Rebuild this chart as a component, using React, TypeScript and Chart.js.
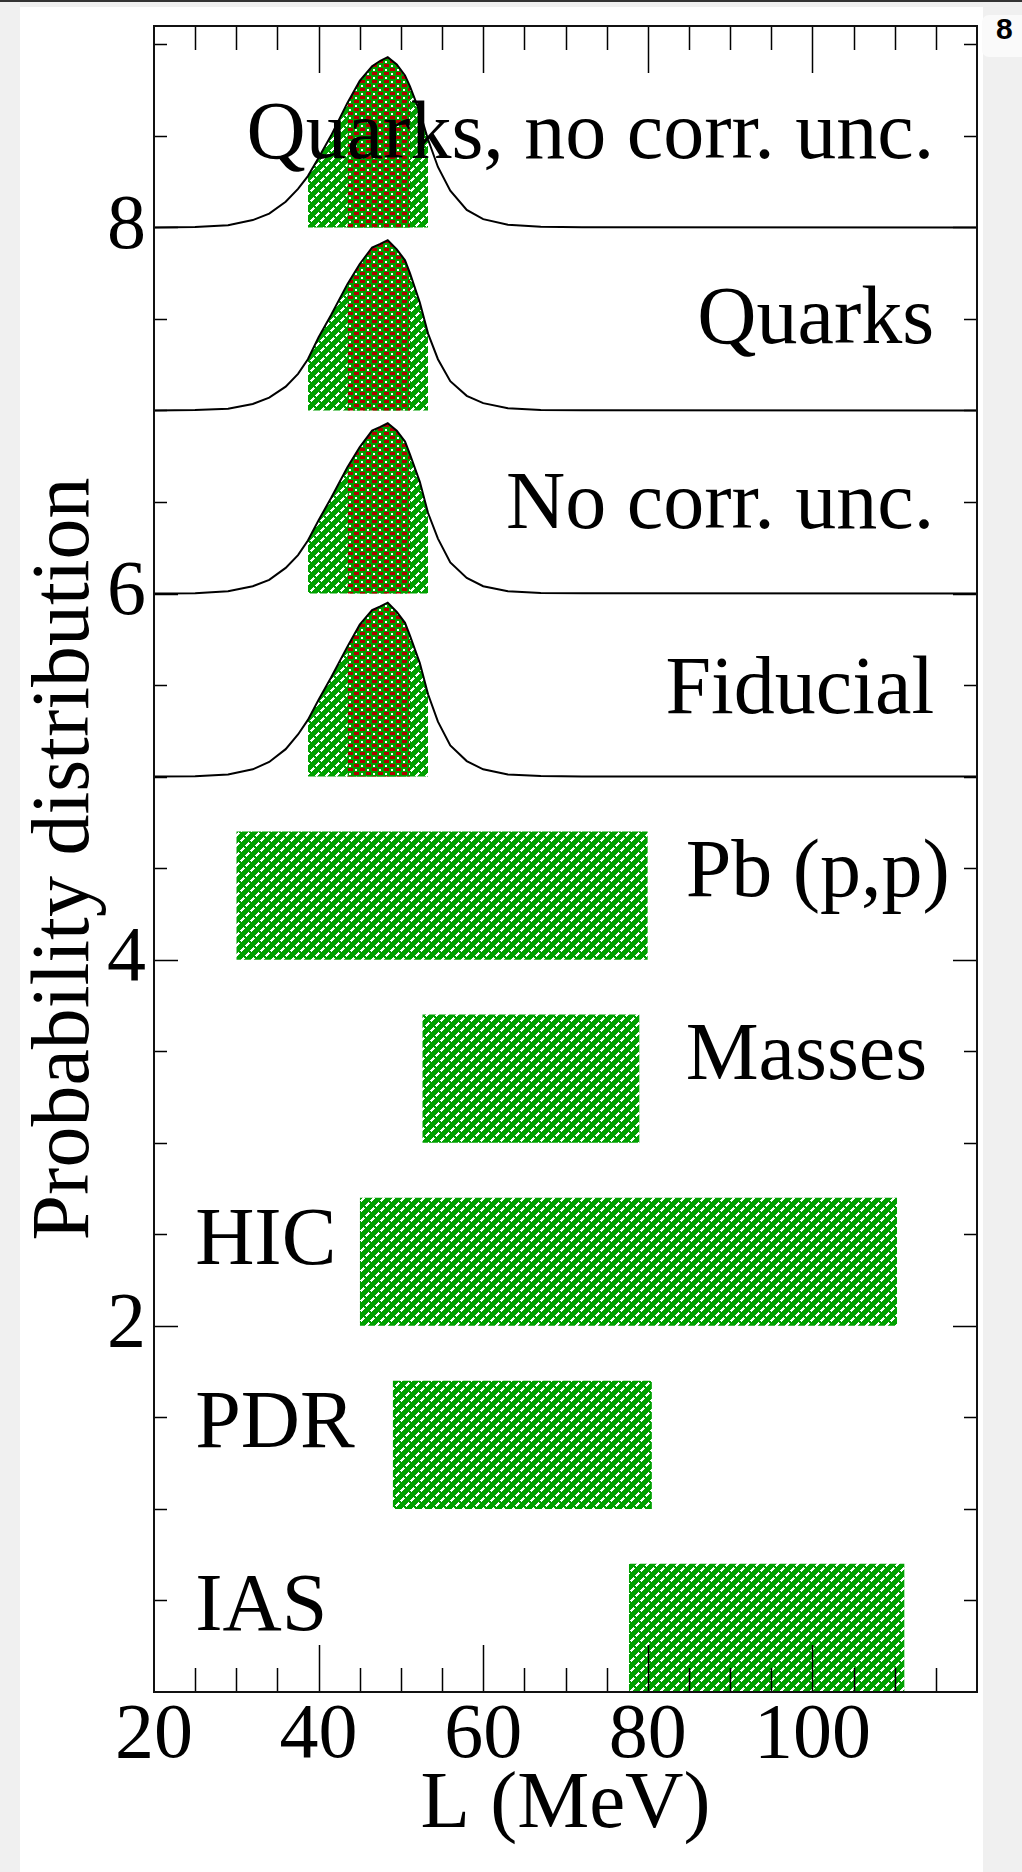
import React, { useEffect, useRef } from "react";
import { Chart, registerables } from "chart.js";

Chart.register(...registerables);

// ---- axis ticks ----
const xTickValues = [20, 40, 60, 80, 100];
const yTickValues = [2, 4, 6, 8];
const xMinorStep = 5;
const yMinorStep = 0.5;

// ---- probability curves (L in MeV, height above the panel baseline) ----
const curveL = [20, 25, 29, 32, 34, 36, 37.5, 38.7, 40, 41.5, 43.5, 45, 46.5, 47.5, 48.4, 49.5, 50.5, 51.1, 52.3, 53.3, 54.5, 56, 58, 60, 63, 67, 72, 120];
const hQuarksNoCorr = [0, 0.002, 0.012, 0.04, 0.075, 0.14, 0.21, 0.28, 0.38, 0.5, 0.68, 0.8, 0.88, 0.91, 0.93, 0.89, 0.83, 0.77, 0.63, 0.48, 0.33, 0.2, 0.095, 0.045, 0.015, 0.004, 0.001, 0];
const hQuarks = [0, 0.002, 0.01, 0.035, 0.07, 0.13, 0.2, 0.28, 0.4, 0.52, 0.69, 0.8, 0.89, 0.91, 0.93, 0.88, 0.82, 0.75, 0.59, 0.42, 0.28, 0.16, 0.08, 0.04, 0.012, 0.003, 0.001, 0];
const hNoCorr = [0, 0.002, 0.012, 0.04, 0.075, 0.14, 0.21, 0.29, 0.4, 0.52, 0.69, 0.8, 0.89, 0.91, 0.93, 0.89, 0.83, 0.76, 0.61, 0.44, 0.3, 0.17, 0.085, 0.04, 0.012, 0.003, 0.001, 0];
const hFiducial = [0, 0.002, 0.012, 0.04, 0.08, 0.15, 0.23, 0.31, 0.42, 0.54, 0.71, 0.83, 0.91, 0.93, 0.95, 0.9, 0.84, 0.77, 0.62, 0.45, 0.3, 0.17, 0.085, 0.04, 0.012, 0.003, 0.001, 0];
const panelHeights = [hQuarksNoCorr, hQuarks, hNoCorr, hFiducial];
const panelBase = [8, 7, 6, 5];
const outerRange = [38.7, 53.3];
const innerRange = [43.5, 51.1];

// ---- constraint bands ----
const barLo = [30, 52.6, 45, 49, 77.7];
const barHi = [80, 79, 110.3, 80.5, 111.2];
const barBottom = [4.0, 3.0, 2.0, 1.0, 0.0];
const barTop = [4.7, 3.7, 2.7, 1.7, 0.7];

// ---- text labels ----
const labelTexts = ["Quarks, no corr. unc.", "Quarks", "No corr. unc.", "Fiducial", "Pb (p,p)", "Masses", "HIC", "PDR", "IAS"];
const labelL = [114.8, 114.8, 114.8, 114.8, 84.6, 84.6, 25, 25, 25];
const labelY = [8.38, 7.37, 6.36, 5.35, 4.35, 3.35, 2.34, 1.34, 0.34];
const labelAlign = ["right", "right", "right", "right", "left", "left", "left", "left", "left"];

const GREEN = "#00a000";
const RED = "#b00000";
const SERIF = "'Liberation Serif', 'Times New Roman', serif";

function makeHatch(ctx: CanvasRenderingContext2D) {
  const n = 10;
  const c = document.createElement("canvas");
  c.width = n;
  c.height = n;
  const g = c.getContext("2d")!;
  g.fillStyle = GREEN;
  g.fillRect(0, 0, n, n);
  g.fillStyle = "#ffffff";
  for (let y = 0; y < n; y++) {
    for (let x = 0; x < n; x++) {
      const across = (x + y) % n;
      const along = (x - y + 2 * n) % n;
      if (across < 3 && along < 7) g.fillRect(x, y, 1, 1);
    }
  }
  return ctx.createPattern(c, "repeat")!;
}

function makeChecker(ctx: CanvasRenderingContext2D) {
  const c = document.createElement("canvas");
  c.width = 12;
  c.height = 8;
  const g = c.getContext("2d")!;
  g.fillStyle = GREEN;
  g.fillRect(0, 0, 12, 8);
  g.fillStyle = RED;
  g.fillRect(0, 0, 5, 3);
  g.fillRect(6, 4, 5, 3);
  g.fillStyle = "#ffffff";
  g.fillRect(7, 1, 2, 2);
  g.fillRect(1, 5, 2, 2);
  return ctx.createPattern(c, "repeat")!;
}

const decorPlugin = {
  id: "decor",
  afterDatasetsDraw(chart: any) {
    const { ctx, chartArea: a, scales } = chart;
    const xs = scales.x;
    const ys = scales.y;
    ctx.save();
    ctx.strokeStyle = "#000";
    ctx.lineWidth = 1.5;
    ctx.beginPath();
    for (let v = xs.min + xMinorStep; v < xs.max - 1e-6; v += xMinorStep) {
      const px = Math.round(xs.getPixelForValue(v)) + 0.5;
      const len = Math.abs(v % 20) < 1e-6 ? 47 : 24;
      ctx.moveTo(px, a.bottom);
      ctx.lineTo(px, a.bottom - len);
      ctx.moveTo(px, a.top);
      ctx.lineTo(px, a.top + len);
    }
    for (let v = ys.min + yMinorStep; v < ys.max - 1e-6; v += yMinorStep) {
      const py = Math.round(ys.getPixelForValue(v)) + 0.5;
      const len = Math.abs(v % 2) < 1e-6 ? 24 : 13;
      ctx.moveTo(a.left, py);
      ctx.lineTo(a.left + len, py);
      ctx.moveTo(a.right, py);
      ctx.lineTo(a.right - len, py);
    }
    ctx.stroke();
    ctx.lineWidth = 2;
    ctx.strokeStyle = "#111";
    ctx.strokeRect(a.left, a.top, a.right - a.left, a.bottom - a.top);

    ctx.fillStyle = "#000";
    ctx.font = `82px ${SERIF}`;
    ctx.textBaseline = "alphabetic";
    labelTexts.forEach((t, i) => {
      ctx.textAlign = labelAlign[i] as CanvasTextAlign;
      ctx.fillText(t, xs.getPixelForValue(labelL[i]), ys.getPixelForValue(labelY[i]));
    });
    ctx.restore();
  },
};

export default function App() {
  const ref = useRef<HTMLCanvasElement>(null);

  useEffect(() => {
    const canvas = ref.current!;
    const ctx = canvas.getContext("2d")!;
    const hatch = makeHatch(ctx);
    const checker = makeChecker(ctx);

    const datasets: any[] = [];
    panelHeights.forEach((h, i) => {
      const base = panelBase[i];
      const pts = curveL.map((x, j) => ({ x, y: base + h[j] }));
      datasets.push({
        data: pts,
        borderColor: "#000",
        borderWidth: 2,
        pointRadius: 0,
        tension: 0,
        fill: false,
        order: 0,
      });
      datasets.push({
        data: pts.filter((p) => p.x >= innerRange[0] && p.x <= innerRange[1]),
        borderColor: "rgba(0,0,0,0)",
        borderWidth: 0,
        pointRadius: 0,
        tension: 0,
        backgroundColor: checker,
        fill: { value: base },
        order: 1,
      });
      datasets.push({
        data: pts.filter((p) => p.x >= outerRange[0] && p.x <= outerRange[1]),
        borderColor: "rgba(0,0,0,0)",
        borderWidth: 0,
        pointRadius: 0,
        tension: 0,
        backgroundColor: hatch,
        fill: { value: base },
        order: 2,
      });
    });
    barLo.forEach((lo, i) => {
      datasets.push({
        data: [
          { x: lo, y: barTop[i] },
          { x: barHi[i], y: barTop[i] },
        ],
        borderColor: "rgba(0,0,0,0)",
        borderWidth: 0,
        pointRadius: 0,
        backgroundColor: hatch,
        fill: { value: barBottom[i] },
        order: 3,
      });
    });

    const chart = new Chart(canvas, {
      type: "line",
      data: { datasets },
      options: {
        responsive: false,
        animation: false,
        devicePixelRatio: 1,
        layout: { padding: { left: 0, right: 45, top: 26, bottom: 0 } },
        plugins: { legend: { display: false }, tooltip: { enabled: false } },
        scales: {
          x: {
            type: "linear",
            min: 20,
            max: 120,
            grid: { display: false, drawTicks: false },
            border: { display: false },
            afterFit: (s: any) => {
              s.height = 180;
              s.paddingLeft = 0;
              s.paddingRight = 0;
            },
            afterBuildTicks: (s: any) => {
              s.ticks = xTickValues.map((v) => ({ value: v }));
            },
            ticks: {
              autoSkip: false,
              maxRotation: 0,
              padding: 6,
              color: "#000",
              font: { family: SERIF, size: 78, lineHeight: 1 },
            },
            title: {
              display: true,
              text: "L (MeV)",
              color: "#000",
              font: { family: SERIF, size: 81 },
              padding: { top: 0, bottom: 18 },
            },
          },
          y: {
            type: "linear",
            min: 0,
            max: 9.1,
            grid: { display: false, drawTicks: false },
            border: { display: false },
            afterFit: (s: any) => {
              s.width = 154;
              s.paddingTop = 0;
              s.paddingBottom = 0;
            },
            afterBuildTicks: (s: any) => {
              s.ticks = yTickValues.map((v) => ({ value: v }));
            },
            ticks: {
              autoSkip: false,
              padding: 8,
              color: "#000",
              font: { family: SERIF, size: 78, lineHeight: 1 },
            },
            title: {
              display: true,
              text: "Probability distribution",
              color: "#000",
              font: { family: SERIF, size: 82 },
              padding: { top: 17, bottom: 0 },
            },
          },
        },
      } as any,
      plugins: [decorPlugin],
    });
    return () => chart.destroy();
  }, []);

  return (
    <div style={{ position: "absolute", left: 0, top: 0, width: 1022, height: 1872, background: "#f0f0f0", overflow: "hidden" }}>
      <div style={{ position: "absolute", left: 0, top: 0, width: 1022, height: 2, background: "#333" }} />
      <div style={{ position: "absolute", left: 20, top: 7, width: 963, height: 1865, background: "#ffffff" }} />
      <div style={{ position: "absolute", left: 982, top: 15, width: 40, height: 42, background: "#fafafa", borderRadius: "7px 0 0 7px" }} />
      <div style={{ position: "absolute", left: 996, top: 14, fontFamily: "'Liberation Sans', sans-serif", fontWeight: 700, fontSize: 30, lineHeight: "30px", color: "#000" }}>8</div>
      <canvas ref={ref} width={1022} height={1872} style={{ position: "absolute", left: 0, top: 0, width: 1022, height: 1872 }} />
    </div>
  );
}
